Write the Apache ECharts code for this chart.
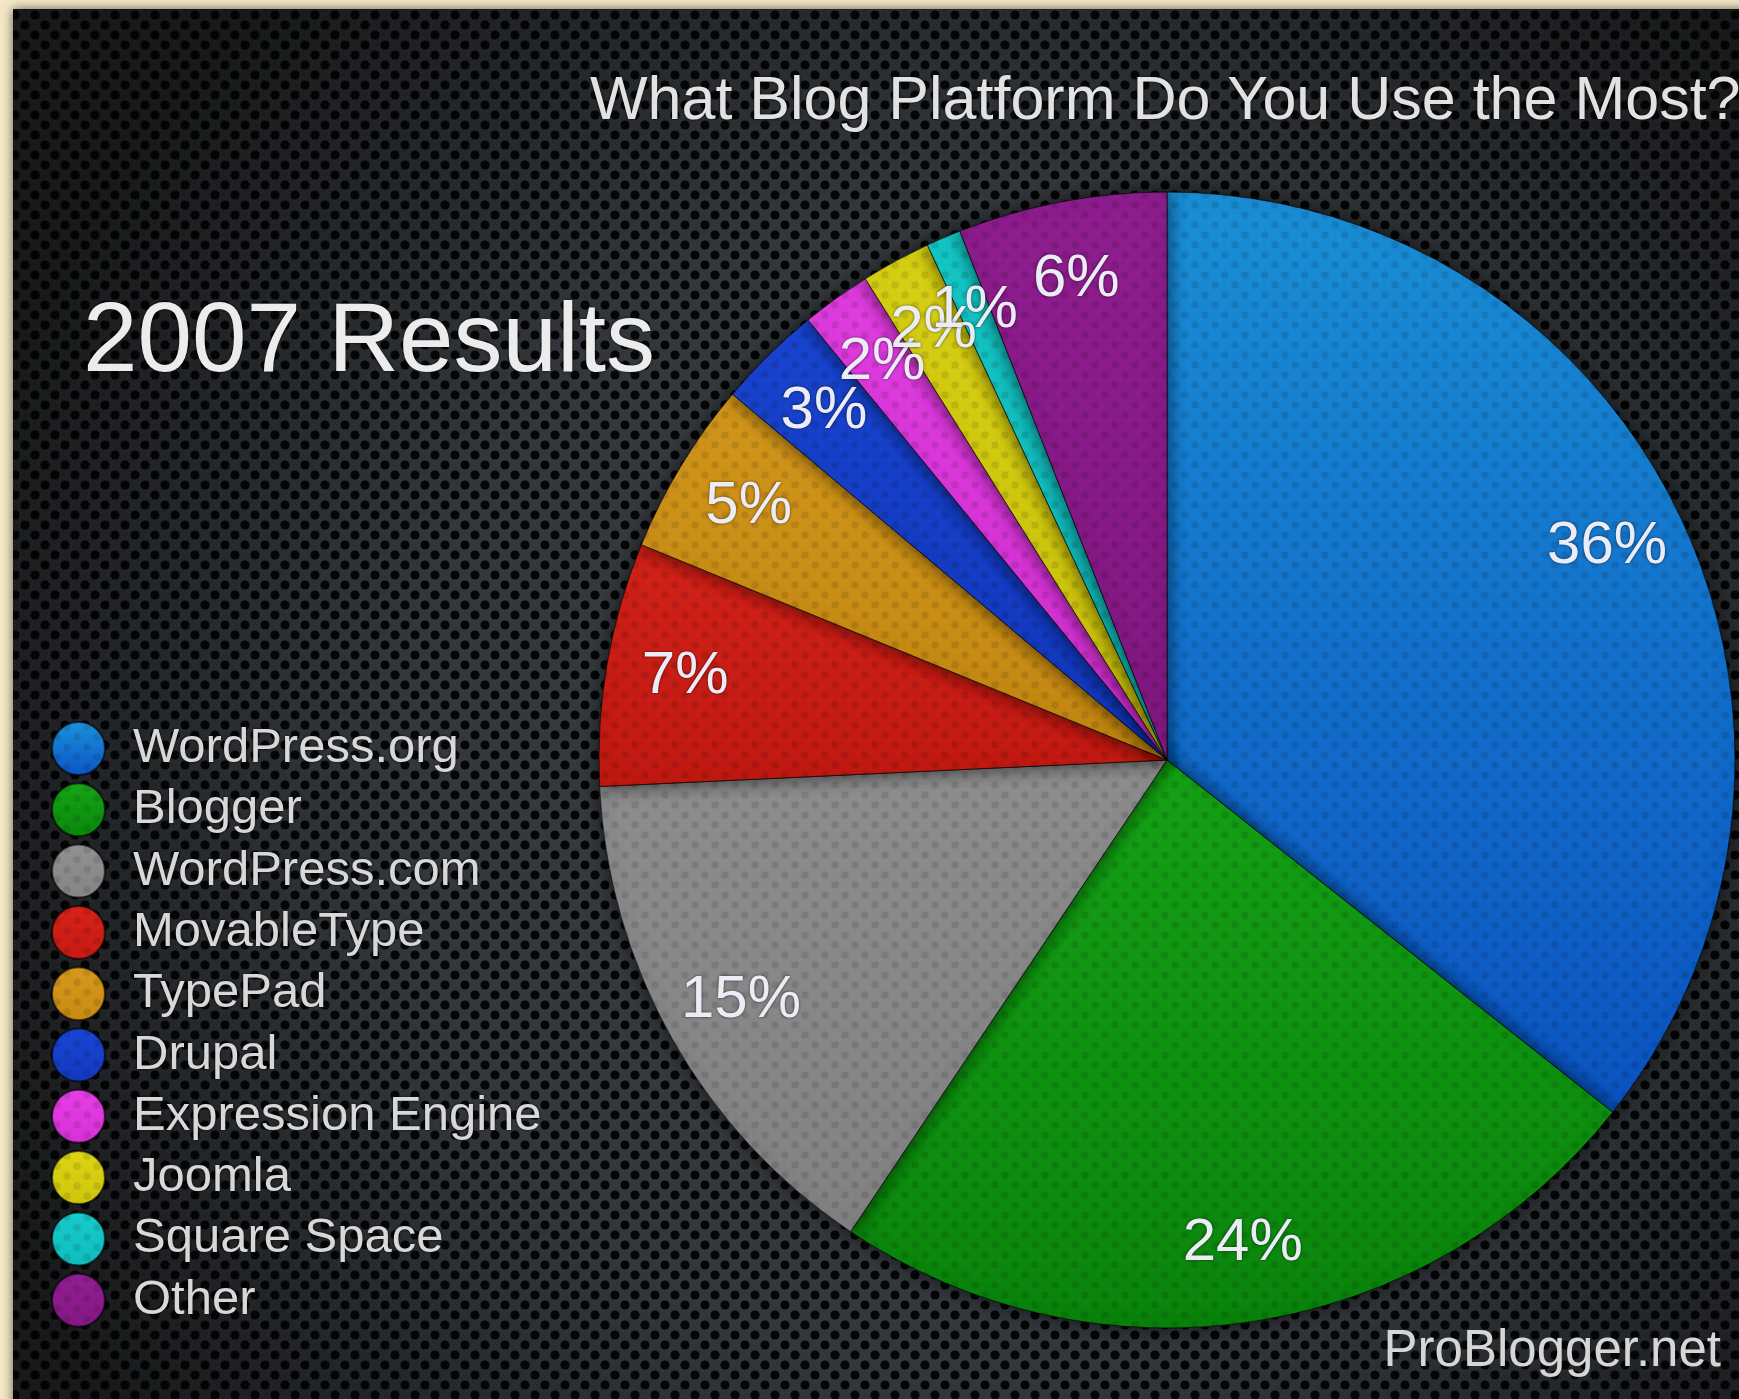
<!DOCTYPE html>
<html>
<head>
<meta charset="utf-8">
<script src="https://cdn.jsdelivr.net/npm/echarts@6/dist/echarts.min.js"></script>
<style>
html,body{margin:0;padding:0;background:#f3e7c6;}
#chart{width:1739px;height:1399px;}
</style>
</head>
<body>
<div id="chart"></div>
<script>
// ---- data ----
const categories = ['WordPress.org','Blogger','WordPress.com','MovableType','TypePad','Drupal','Expression Engine','Joomla','Square Space','Other'];
const values = [36, 24, 15, 7, 5, 3, 2, 2, 1, 6];
const sliceColors = [
  ['#1b92da','#0b55c6'],
  ['#16a516','#0a870c'],
  ['#909090','#858585'],
  ['#d6231a','#c51a12'],
  ['#d6991c','#c88a12'],
  ['#1a46d4','#1238c0'],
  ['#e43ee4','#d630d6'],
  ['#dcd414','#cfc60c'],
  ['#16cccc','#10bcbc'],
  ['#921e92','#841884']
];
const titleText = 'What Blog Platform Do You Use the Most?';
const subtitleText = '2007 Results';
const creditText = 'ProBlogger.net';

// ---- decorative background texture ----
function makeMesh(){
  const c = document.createElement('canvas');
  c.width = 20; c.height = 20;
  const g = c.getContext('2d');
  g.fillStyle = '#3a3e43';
  g.fillRect(0,0,20,20);
  g.fillStyle = '#050607';
  const pts = [[5,5],[15,15],[-5,15],[25,15],[15,-5],[5,25],[25,-5],[-5,-5],[-5,25],[25,25]];
  pts.forEach(p=>{ g.beginPath(); g.arc(p[0],p[1],4.6,0,Math.PI*2); g.fill(); });
  return c;
}
const mesh = makeMesh();

const chart = echarts.init(document.getElementById('chart'), null, {renderer:'canvas'});

const font = '"Liberation Sans", Helvetica, Arial, sans-serif';
const decal = {
  symbol: 'circle',
  symbolSize: 0.75,
  dashArrayX: [[10, 10], [0, 10, 10, 0]],
  dashArrayY: [10, 0],
  color: 'rgba(0,0,0,0.10)'
};

const mainData = categories.map((n, i) => ({
  name: n,
  value: values[i],
  itemStyle: {
    color: {type:'linear', x:0, y:0, x2:0, y2:1, colorStops:[{offset:0,color:sliceColors[i][0]},{offset:1,color:sliceColors[i][1]}]},
    decal: decal
  }
}));
const labelData = categories.map((n, i) => ({ name: n, value: values[i] }));

const option = {
  backgroundColor: '#f3e7c6',
  animation: false,
  graphic: [
    { type:'rect', z:-10, silent:true,
      shape:{x:13, y:9, width:1760, height:1420},
      style:{fill:'#1a1c1f', shadowBlur:10, shadowColor:'rgba(0,0,0,0.6)'} },
    { type:'rect', z:-9, silent:true,
      shape:{x:13, y:9, width:1760, height:1420},
      style:{fill:{image: mesh, repeat:'repeat'}} },
    { type:'rect', z:-8, silent:true,
      shape:{x:13, y:9, width:1760, height:1420},
      style:{fill:{type:'radial', x:0.55, y:0.55, r:0.75, colorStops:[
        {offset:0, color:'rgba(0,0,0,0)'},
        {offset:0.55, color:'rgba(0,0,0,0.12)'},
        {offset:1, color:'rgba(0,0,0,0.6)'}]}} },
    { type:'text', z:10, silent:true, right:18, top:1326,
      style:{text: creditText, fill:'#d6d6d6', font:'51px ' + font,
        shadowBlur:3, shadowColor:'rgba(0,0,0,0.8)'} }
  ],
  title: [
    { text: titleText, left: 590, top: 70, padding: 0,
      textStyle:{color:'#e2e2e2', fontFamily: font, fontWeight:'normal', fontSize:61, lineHeight:64,
        textShadowBlur:3, textShadowColor:'rgba(0,0,0,0.8)'} },
    { text: subtitleText, left: 83, top: 292, padding: 0,
      textStyle:{color:'#ececec', fontFamily: font, fontWeight:'normal', fontSize:98, lineHeight:104,
        textShadowBlur:3, textShadowColor:'rgba(0,0,0,0.8)'} }
  ],
  legend: {
    orient:'vertical', left: 46, top: 716,
    icon:'circle', itemWidth: 53, itemHeight: 53, itemGap: 6.3,
    data: categories,
    selectedMode: false,
    textStyle:{color:'#d8d8d8', fontFamily: font, fontSize:49, lineHeight:53,
      padding:[0,0,0,23], textShadowBlur:3, textShadowColor:'rgba(0,0,0,0.8)'}
  },
  series: [
    {
      type:'pie', name:'main',
      center:[1167, 760], radius:[0, 568],
      startAngle: 90, clockwise: true,
      label:{show:false}, labelLine:{show:false},
      itemStyle:{borderWidth:1, borderColor:'rgba(0,0,0,0.35)', shadowBlur:18, shadowColor:'rgba(0,0,0,0.6)'},
      emphasis:{disabled:true},
      data: mainData
    },
    {
      type:'pie', name:'labels', silent:true,
      center:[1167, 760], radius:[404, 568],
      startAngle: 90, clockwise: true,
      avoidLabelOverlap: false,
      minShowLabelAngle: 0,
      itemStyle:{color:'rgba(0,0,0,0)', borderWidth:0},
      emphasis:{disabled:true},
      label:{show:true, position:'inside', formatter:'{c}%', color:'#ececf6', overflow:'none',
        fontFamily: font, fontSize:60, textShadowBlur:3, textShadowColor:'rgba(0,0,0,0.6)'},
      labelLayout:{hideOverlap:false},
      labelLine:{show:false},
      data: labelData
    }
  ]
};
chart.setOption(option);
</script>
</body>
</html>
